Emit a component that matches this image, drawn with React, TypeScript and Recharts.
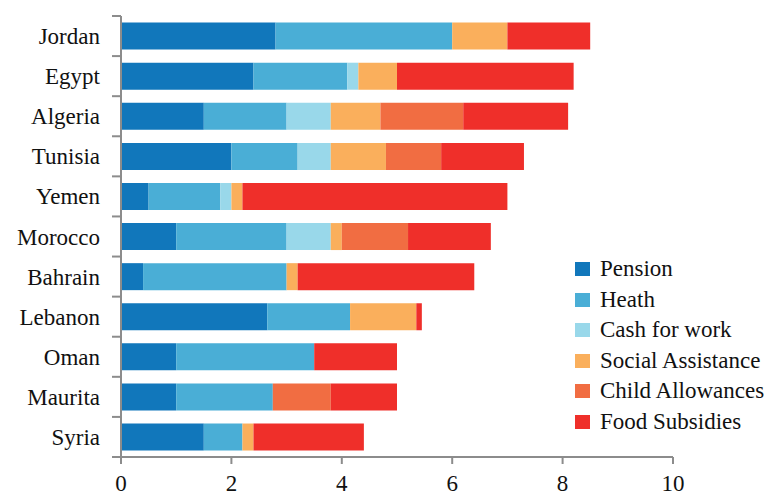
import React from 'react';
import { BarChart, Bar, XAxis, YAxis } from 'recharts';

// categories top to bottom
const countries = ['Jordan', 'Egypt', 'Algeria', 'Tunisia', 'Yemen', 'Morocco', 'Bahrain', 'Lebanon', 'Oman', 'Maurita', 'Syria'];

const pension = [2.8, 2.4, 1.5, 2.0, 0.5, 1.0, 0.4, 2.65, 1.0, 1.0, 1.5];
const heath = [3.2, 1.7, 1.5, 1.2, 1.3, 2.0, 2.6, 1.5, 2.5, 1.75, 0.7];
const cashForWork = [0, 0.2, 0.8, 0.6, 0.2, 0.8, 0, 0, 0, 0, 0];
const socialAssistance = [1.0, 0.7, 0.9, 1.0, 0.2, 0.2, 0.2, 1.2, 0, 0, 0.2];
const childAllowances = [0, 0, 1.5, 1.0, 0, 1.2, 0, 0, 0, 1.05, 0];
const foodSubsidies = [1.5, 3.2, 1.9, 1.5, 4.8, 1.5, 3.2, 0.1, 1.5, 1.2, 2.0];

const xTicks = [0, 2, 4, 6, 8, 10];

const series = [
  { key: 'pension', name: 'Pension', color: '#1177bb', values: pension },
  { key: 'heath', name: 'Heath', color: '#4aaed6', values: heath },
  { key: 'cash', name: 'Cash for work', color: '#99d8ea', values: cashForWork },
  { key: 'social', name: 'Social Assistance', color: '#faaf5c', values: socialAssistance },
  { key: 'child', name: 'Child Allowances', color: '#f16d42', values: childAllowances },
  { key: 'food', name: 'Food Subsidies', color: '#ef2f2a', values: foodSubsidies },
];

const data = countries.map((c, i) => {
  const row: any = { name: c };
  series.forEach(s => { row[s.key] = s.values[i]; });
  return row;
});

const W = 772;
const H = 495;
const LEFT = 121;
const TOP = 16;
const XAXIS_H = 38;
const RIGHT = 99;
const BAND = (H - TOP - XAXIS_H) / countries.length;
const AXIS = '#8c8c8c';
const FONT = '"Liberation Serif", "Times New Roman", serif';

const CategoryTick = (props: any) => {
  const { x, y, payload, index } = props;
  return (
    <g>
      <line x1={LEFT - 9} x2={LEFT} y1={y - BAND / 2} y2={y - BAND / 2} stroke={AXIS} strokeWidth={2} />
      {index === countries.length - 1 && (
        <line x1={LEFT - 9} x2={LEFT} y1={y + BAND / 2} y2={y + BAND / 2} stroke={AXIS} strokeWidth={2} />
      )}
      <text x={x} y={y} dy="0.35em" textAnchor="end" fontSize={23} fontFamily={FONT} fill="#111">
        {payload.value}
      </text>
    </g>
  );
};

const LegendBox = () => (
  <div style={{ position: 'absolute', left: 575, top: 254, fontFamily: FONT, fontSize: 23, color: '#111' }}>
    {series.map(s => (
      <div key={s.key} style={{ display: 'flex', alignItems: 'center', height: 30.5, whiteSpace: 'nowrap' }}>
        <span style={{ display: 'inline-block', width: 15, height: 14, background: s.color, marginRight: 10 }} />
        <span>{s.name}</span>
      </div>
    ))}
  </div>
);

export default function App() {
  return (
    <div style={{ position: 'absolute', left: 0, top: 0, width: W, height: H, background: '#fff' }}>
      <BarChart
        width={W}
        height={H}
        data={data}
        layout="vertical"
        margin={{ top: TOP, right: RIGHT, bottom: 0, left: 0 }}
        barCategoryGap="16.5%"
      >
        <XAxis
          type="number"
          domain={[0, 10]}
          ticks={xTicks}
          height={XAXIS_H}
          axisLine={{ stroke: AXIS, strokeWidth: 2 }}
          tickLine={{ stroke: AXIS, strokeWidth: 2 }}
          tickSize={7}
          tickMargin={11}
          tick={{ fontSize: 23, fontFamily: FONT, fill: '#111' }}
        />
        <YAxis
          type="category"
          dataKey="name"
          width={LEFT}
          axisLine={{ stroke: AXIS, strokeWidth: 2 }}
          tickLine={false}
          tickSize={9}
          tickMargin={12}
          interval={0}
          tick={<CategoryTick />}
        />
        {series.map(s => (
          <Bar key={s.key} dataKey={s.key} name={s.name} stackId="a" fill={s.color} isAnimationActive={false} />
        ))}
      </BarChart>
      <LegendBox />
    </div>
  );
}
